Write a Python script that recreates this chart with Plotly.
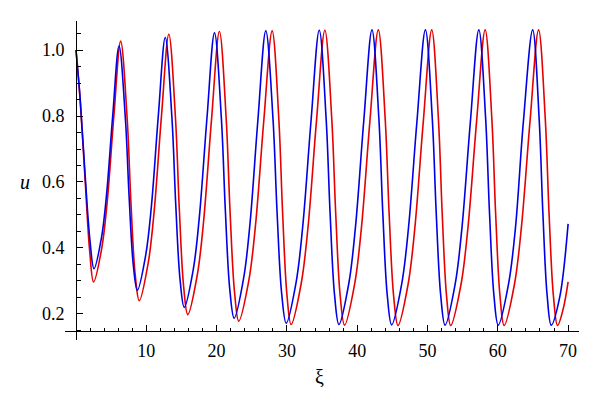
import plotly.graph_objects as go

# ---- data ----
blue_xi = [0.0, 0.6, 1.3, 2.0, 2.56,
           3.63, 4.34, 5.23, 6.12, 7.03, 7.56, 8.16, 8.73,
           9.92, 10.72, 11.71, 12.7, 13.65, 14.19, 14.81, 15.4,
           16.69, 17.55, 18.63, 19.7, 20.68, 21.24, 21.88, 22.5,
           23.85, 24.75, 25.875, 27.0, 28.02, 28.60, 29.26, 29.9,
           31.31, 32.25, 33.43, 34.6, 35.58, 36.14, 36.78, 37.4,
           38.81, 39.75, 40.93, 42.1, 43.08, 43.64, 44.28, 44.9,
           46.34, 47.30, 48.50, 49.7, 50.68, 51.24, 51.88, 52.5,
           53.94, 54.90, 56.10, 57.3, 58.27, 58.82, 59.45, 60.06,
           61.53, 62.51, 63.64, 64.96, 65.88, 66.41, 67.02, 67.6,
           68.8, 70.0]
blue_u = [1.0, 0.85, 0.62, 0.42, 0.337,
          0.432, 0.560, 0.803, 1.012, 0.790, 0.553, 0.346, 0.272,
          0.379, 0.525, 0.801, 1.038, 0.793, 0.531, 0.302, 0.220,
          0.336, 0.495, 0.794, 1.052, 0.792, 0.516, 0.273, 0.187,
          0.309, 0.474, 0.788, 1.058, 0.792, 0.509, 0.261, 0.172,
          0.296, 0.465, 0.785, 1.060, 0.792, 0.507, 0.257, 0.168,
          0.293, 0.463, 0.784, 1.061, 0.793, 0.507, 0.256, 0.167,
          0.292, 0.462, 0.784, 1.061, 0.792, 0.506, 0.256, 0.166,
          0.291, 0.461, 0.783, 1.061, 0.792, 0.506, 0.256, 0.166,
          0.291, 0.461, 0.783, 1.061, 0.792, 0.506, 0.256, 0.166,
          0.25, 0.473]

red_xi = [0.0, 0.6, 1.3, 1.95, 2.5,
          3.66, 4.43, 5.39, 6.35, 7.28, 7.81, 8.42, 9.0,
          10.26, 11.10, 12.15, 13.2, 14.15, 14.69, 15.31, 15.9,
          17.25, 18.15, 19.28, 20.4, 21.36, 21.91, 22.55, 23.15,
          24.58, 25.53, 26.71, 27.9, 28.85, 29.39, 30.01, 30.6,
          32.04, 33.00, 34.20, 35.4, 36.38, 36.94, 37.58, 38.2,
          39.64, 40.60, 41.80, 43.0, 43.98, 44.54, 45.18, 45.8,
          47.24, 48.20, 49.40, 50.6, 51.55, 52.09, 52.71, 53.3,
          54.77, 55.75, 56.98, 58.2, 59.15, 59.69, 60.31, 60.9,
          62.37, 63.35, 64.58, 65.8, 66.75, 67.29, 67.91, 68.5,
          69.3, 70.0]
red_u = [1.0, 0.845, 0.605, 0.39, 0.297,
         0.399, 0.538, 0.801, 1.027, 0.791, 0.539, 0.319, 0.240,
         0.353, 0.507, 0.798, 1.048, 0.793, 0.521, 0.283, 0.198,
         0.318, 0.481, 0.790, 1.056, 0.793, 0.512, 0.266, 0.178,
         0.301, 0.468, 0.785, 1.058, 0.791, 0.506, 0.257, 0.168,
         0.293, 0.462, 0.783, 1.060, 0.792, 0.506, 0.255, 0.166,
         0.291, 0.461, 0.783, 1.061, 0.792, 0.505, 0.255, 0.165,
         0.290, 0.461, 0.783, 1.061, 0.792, 0.505, 0.255, 0.165,
         0.290, 0.461, 0.783, 1.061, 0.792, 0.505, 0.255, 0.165,
         0.290, 0.461, 0.783, 1.061, 0.792, 0.505, 0.255, 0.165,
         0.215, 0.297]

x_tickvals = [10, 20, 30, 40, 50, 60, 70]
y_tickvals = [0.2, 0.4, 0.6, 0.8, 1.0]
y_ticktext = ["0.2", "0.4", "0.6", "0.8", "1.0"]

X_RANGE = [-1.565, 71.55]
Y_RANGE = [0.121, 1.088]
X_AXIS_AT = 0.148
Y_AXIS_AT = 0.0

FONT = "Liberation Serif"

fig = go.Figure()
fig.add_trace(go.Scatter(x=red_xi, y=red_u, mode="lines",
                         line=dict(color="rgb(230,0,0)", width=1.6, shape="spline", smoothing=1.0),
                         showlegend=False, hoverinfo="skip"))
fig.add_trace(go.Scatter(x=blue_xi, y=blue_u, mode="lines",
                         line=dict(color="rgb(0,0,230)", width=1.6, shape="spline", smoothing=1.0),
                         showlegend=False, hoverinfo="skip"))

xpos = (X_AXIS_AT - Y_RANGE[0]) / (Y_RANGE[1] - Y_RANGE[0])
ypos = (Y_AXIS_AT - X_RANGE[0]) / (X_RANGE[1] - X_RANGE[0])

fig.update_layout(
    width=600, height=411,
    margin=dict(l=65, r=21, t=21, b=71),
    paper_bgcolor="white", plot_bgcolor="white",
    font=dict(family=FONT, size=18, color="black"),
    xaxis=dict(range=X_RANGE, anchor="free", position=xpos,
               showgrid=False, zeroline=False,
               showline=True, linecolor="black", linewidth=1,
               tickmode="array", tickvals=x_tickvals,
               ticks="inside", ticklen=6, tickwidth=1, tickcolor="black",
               ticklabelstandoff=3,
               minor=dict(tickmode="linear", tick0=0, dtick=2, ticks="inside",
                          ticklen=3.5, tickwidth=1, tickcolor="black", showgrid=False),
               tickfont=dict(family=FONT, size=18, color="black")),
    yaxis=dict(range=Y_RANGE, anchor="free", position=ypos,
               showgrid=False, zeroline=False,
               showline=True, linecolor="black", linewidth=1,
               tickmode="array", tickvals=y_tickvals, ticktext=y_ticktext,
               ticks="inside", ticklen=6, tickwidth=1, tickcolor="black",
               ticklabelstandoff=8,
               minor=dict(tickmode="linear", tick0=0, dtick=0.05, ticks="inside",
                          ticklen=3.5, tickwidth=1, tickcolor="black", showgrid=False),
               tickfont=dict(family=FONT, size=18, color="black")),
    annotations=[
        dict(text="<i>u</i>", xref="paper", yref="paper", x=-0.078, y=0.495,
             showarrow=False, font=dict(family=FONT, size=20, color="black"),
             xanchor="center", yanchor="middle"),
        dict(text="ξ", xref="paper", yref="paper", x=0.496, y=-0.116,
             showarrow=False, font=dict(family=FONT, size=20, color="black"),
             xanchor="center", yanchor="middle"),
    ],
)

fig.write_html("out.html", config={"displayModeBar": False},
               post_script="document.body.style.margin='0px';")
